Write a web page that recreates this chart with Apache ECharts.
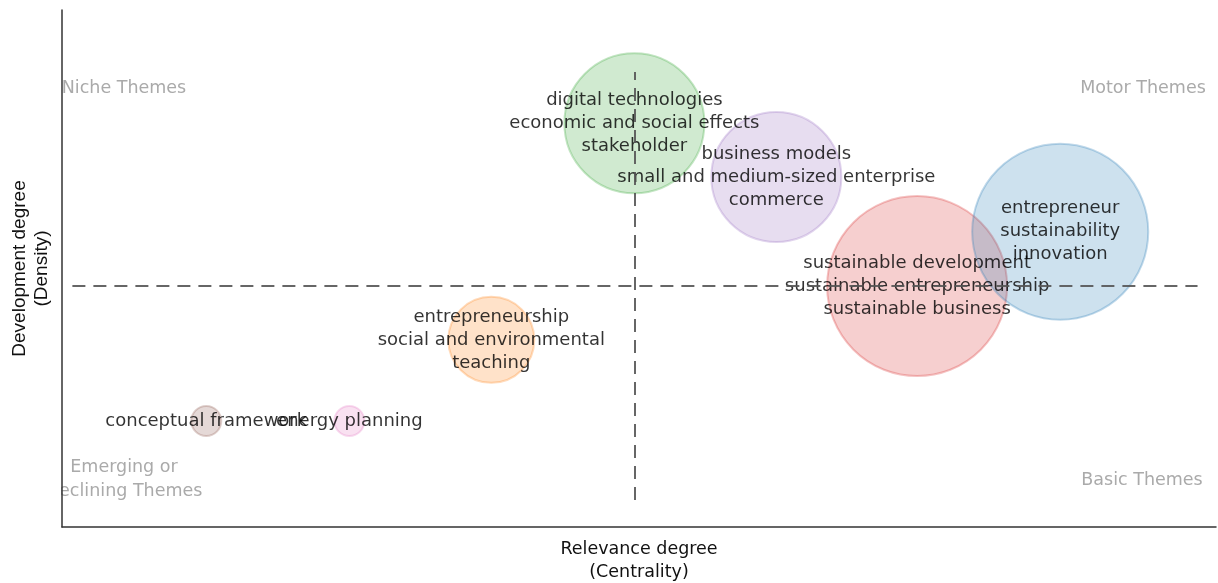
<!DOCTYPE html>
<html>
<head>
<meta charset="utf-8">
<script src="https://cdn.jsdelivr.net/npm/echarts@6/dist/echarts.min.js"></script>
<style>
  html, body { margin: 0; padding: 0; background: #fff; }
  #main { width: 1218px; height: 583px; }
</style>
</head>
<body>
<div id="main"></div>
<script>
// cluster labels (three top words each)
var clusters = [
    'digital technologies\neconomic and social effects\nstakeholder',
    'business models\nsmall and medium-sized enterprise\ncommerce',
    'sustainable development\nsustainable entrepreneurship\nsustainable business',
    'entrepreneur\nsustainability\ninnovation',
    'entrepreneurship\nsocial and environmental\nteaching',
    'conceptual framework',
    'energy planning'
];
var centrality = [49.6, 61.9, 74.1, 86.5, 37.2, 12.5, 24.9];
var density = [78.1, 67.7, 46.6, 57.1, 36.2, 20.5, 20.5];
var freq = [196, 169, 324, 310, 74, 9, 9];
var colors = ['#2ca02c', '#9467bd', '#d62728', '#1f77b4', '#ff7f0e', '#8c564b', '#e377c2'];

// mean lines
var meanCentrality = 49.6;
var meanDensity = 46.6;
var xRange = [0.9, 98.4];
var yRange = [5.2, 88.0];

function rgba(hex, a) {
    var n = parseInt(hex.slice(1), 16);
    return 'rgba(' + (n >> 16) + ',' + ((n >> 8) & 255) + ',' + (n & 255) + ',' + a + ')';
}

var myChart = echarts.init(document.getElementById('main'));

var quadText = {
    fill: '#aaaaaa',
    font: '17.5px "DejaVu Sans"',
    align: 'center',
    verticalAlign: 'middle',
    lineHeight: 24
};

var option = {
    animation: false,
    grid: {
        left: 62,
        right: 2,
        top: 10,
        bottom: 56,
        outerBoundsMode: 'none'
    },
    xAxis: {
        type: 'value',
        min: 0,
        max: 100,
        name: 'Relevance degree\n(Centrality)',
        nameLocation: 'middle',
        nameGap: 11,
        nameTextStyle: {
            color: '#111',
            fontFamily: 'DejaVu Sans',
            fontSize: 17.5,
            lineHeight: 23,
            verticalAlign: 'top'
        },
        axisLine: { onZero: false, lineStyle: { color: '#333', width: 1.5 } },
        axisTick: { show: false },
        axisLabel: { show: false },
        splitLine: { show: false }
    },
    yAxis: {
        type: 'value',
        min: 0,
        max: 100,
        name: 'Development degree\n(Density)',
        nameLocation: 'middle',
        nameGap: 9,
        nameTextStyle: {
            color: '#111',
            fontFamily: 'Liberation Sans',
            fontSize: 19,
            lineHeight: 22
        },
        axisLine: { onZero: false, lineStyle: { color: '#333', width: 1.5 } },
        axisTick: { show: false },
        axisLabel: { show: false },
        splitLine: { show: false }
    },
    graphic: [
        { type: 'text', z: -10, x: 124, y: 88, style: Object.assign({ text: 'Niche Themes' }, quadText) },
        { type: 'text', z: -10, x: 1143, y: 88, style: Object.assign({ text: 'Motor Themes' }, quadText) },
        { type: 'text', z: -10, x: 1142, y: 480, style: Object.assign({ text: 'Basic Themes' }, quadText) },
        { type: 'text', z: -10, x: 124, y: 479, style: Object.assign({ text: 'Emerging or\nDeclining Themes' }, quadText) },
        // hides the part of the quadrant labels that runs past the y axis
        { type: 'rect', z: -5, left: 0, top: 0, shape: { width: 61, height: 583 }, style: { fill: '#fff' } }
    ],
    series: [{
        type: 'scatter',
        data: clusters.map(function(name, i) {
            return {
                name: name,
                value: [centrality[i], density[i]],
                symbolSize: 10 * Math.sqrt(freq[i]),
                itemStyle: {
                    color: rgba(colors[i], 0.28),
                    borderColor: rgba(colors[i], 0.35),
                    borderWidth: 2
                }
            };
        }),
        label: {
            show: true,
            position: 'inside',
            formatter: '{b}',
            color: '#000',
            fontFamily: 'DejaVu Sans',
            fontSize: 18,
            lineHeight: 23
        },
        markLine: {
            silent: true,
            symbol: 'none',
            label: { show: false },
            lineStyle: { color: '#555', width: 2, type: [13, 8], opacity: 0.9 },
            data: [
                [{ coord: [meanCentrality, yRange[0]] }, { coord: [meanCentrality, yRange[1]] }],
                [{ coord: [xRange[0], meanDensity] }, { coord: [xRange[1], meanDensity] }]
            ]
        }
    }]
};
myChart.setOption(option);
</script>
</body>
</html>
